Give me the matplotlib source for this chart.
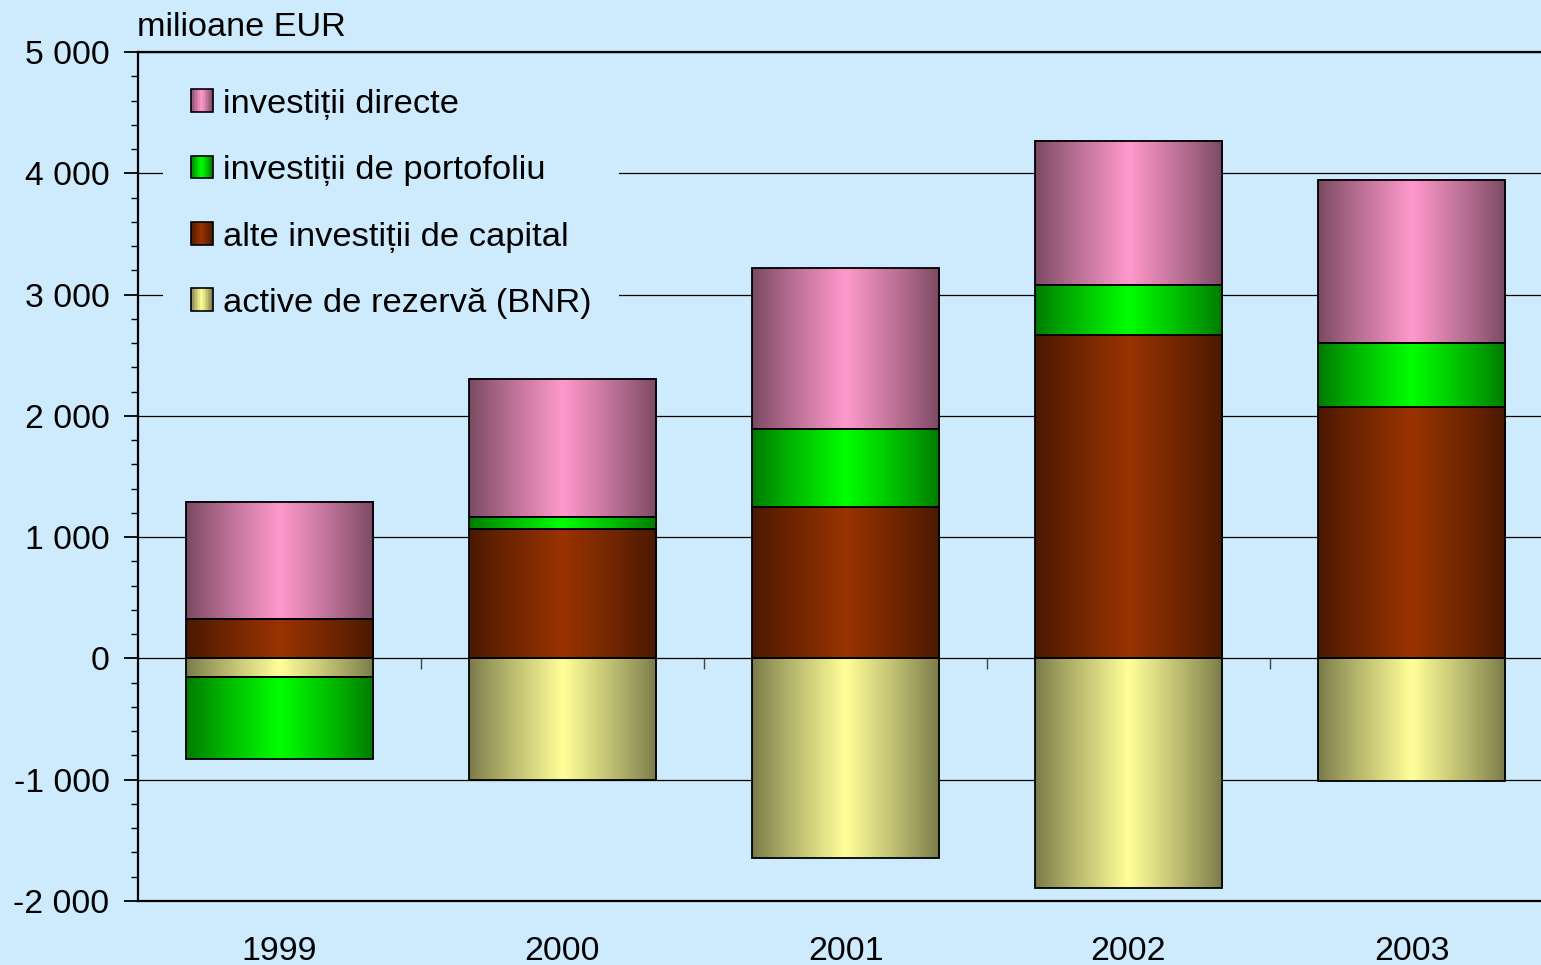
import matplotlib
matplotlib.use("Agg")
import matplotlib.pyplot as plt
import matplotlib.patches as mpatches
import matplotlib.colors as mcolors
from matplotlib.legend_handler import HandlerBase
from matplotlib.ticker import MultipleLocator, FuncFormatter
import numpy as np

# values (milioane EUR)
years = ["1999", "2000", "2001", "2002", "2003"]
directe = [971, 1139, 1320, 1195, 1350]
portofoliu = [-670, 99, 643, 405, 520]
alte = [322, 1070, 1252, 2670, 2077]
rezerva = [-157, -1003, -1644, -1891, -1009]

labels = ["investiții directe", "investiții de portofoliu",
          "alte investiții de capital", "active de rezervă (BNR)"]
colors = ["#ff99cc", "#00ff00", "#993300", "#ffff99"]
bg = "#cdebfd"

plt.rcParams['font.family'] = ['Liberation Sans', 'DejaVu Sans']


def shade(t):
    # dark at the edges, full colour in the middle
    f = 1 - abs(2 * t - 1)
    return 0.47 + 0.53 * f ** 0.9


def gradient_row(color, n=200):
    base = np.array(mcolors.to_rgb(color))
    t = (np.arange(n) + 0.5) / n
    return (base[None, :] * shade(t)[:, None])[None, :, :]


class GradientHandler(HandlerBase):
    def create_artists(self, legend, orig_handle, xdescent, ydescent,
                       width, height, fontsize, trans):
        base = np.array(mcolors.to_rgb(orig_handle.get_facecolor()))
        x0, y0 = -xdescent, -ydescent
        n = 14
        arts = []
        for i in range(n):
            t = (i + 0.5) / n
            arts.append(mpatches.Rectangle((x0 + i * width / n, y0), width / n, height,
                                           facecolor=np.clip(base * shade(t), 0, 1),
                                           edgecolor='none', transform=trans))
        arts.append(mpatches.Rectangle((x0, y0), width, height, facecolor='none',
                                       edgecolor='black', lw=1.2, transform=trans))
        return arts


W, H = 1541, 965
fig = plt.figure(figsize=(W / 100, H / 100), dpi=100, facecolor=bg)
ax = fig.add_axes([138 / W, 1 - 901 / H, (1553 - 138) / W, (901 - 52) / H])
ax.set_facecolor(bg)

x = np.arange(len(years))
width = 0.664
ymin, ymax = -2000, 5000

series = [(rezerva, colors[3]), (alte, colors[2]), (portofoliu, colors[1]), (directe, colors[0])]
pos = np.zeros(len(years))
neg = np.zeros(len(years))
for vals, col in series:
    vals = np.array(vals, dtype=float)
    bottom = np.where(vals >= 0, pos, neg)
    bars = ax.bar(x, vals, width, bottom=bottom, facecolor='none',
                  edgecolor='black', linewidth=1.3, zorder=3)
    img = gradient_row(col)
    for r in bars:
        x0, y0 = r.get_x(), r.get_y()
        y1 = y0 + r.get_height()
        ax.imshow(img, extent=(x0, x0 + r.get_width(), min(y0, y1), max(y0, y1)),
                  aspect='auto', interpolation='bilinear', zorder=2)
    pos = np.where(vals >= 0, pos + vals, pos)
    neg = np.where(vals < 0, neg + vals, neg)

ax.set_xlim(-0.5, len(years) - 0.5)
ax.set_ylim(ymin, ymax)

ax.yaxis.set_major_locator(MultipleLocator(1000))
ax.yaxis.set_minor_locator(MultipleLocator(200))
ax.yaxis.set_major_formatter(FuncFormatter(lambda v, p: f"{int(v):,}".replace(",", " ")))
ax.tick_params(axis='y', which='major', length=10, width=1.3, pad=10.5, labelsize=24.3)
ax.tick_params(axis='y', which='minor', length=5, width=1.0)
ax.set_xticks(x)
ax.set_xticklabels(years)
ax.tick_params(axis='x', length=0, pad=25, labelsize=24.4)

ax.yaxis.grid(True, which='major', color='black', linewidth=0.9)
ax.set_axisbelow(True)
for s in ['left', 'bottom', 'top']:
    ax.spines[s].set_linewidth(1.6)
ax.spines['right'].set_visible(False)

# category boundary ticks on the zero line
sec = ax.secondary_xaxis((0 - ymin) / (ymax - ymin))
sec.set_xticks(x[:-1] + 0.5)
sec.tick_params(top=False, bottom=True, labelbottom=False, labeltop=False,
                direction='out', length=8, width=1.0, color='#444444')
for s in sec.spines.values():
    s.set_visible(False)

fig.text(137 / W, 1 - 27 / H, "milioane EUR", fontsize=24.7, va='center', ha='left')

handles = [mpatches.Patch(facecolor=c) for c in colors]
leg = ax.legend(handles, labels, loc='upper left',
                bbox_to_anchor=(163 / W, 1 - 61 / H), bbox_transform=fig.transFigure,
                fontsize=24.8, frameon=True, facecolor=bg, edgecolor='none', framealpha=1,
                fancybox=False, borderpad=0.8, borderaxespad=0,
                handlelength=0.64, handleheight=0.64, handletextpad=0.3,
                labelspacing=1.03, handler_map={mpatches.Patch: GradientHandler()})

fig.savefig("out.png", dpi=100, facecolor=bg)
